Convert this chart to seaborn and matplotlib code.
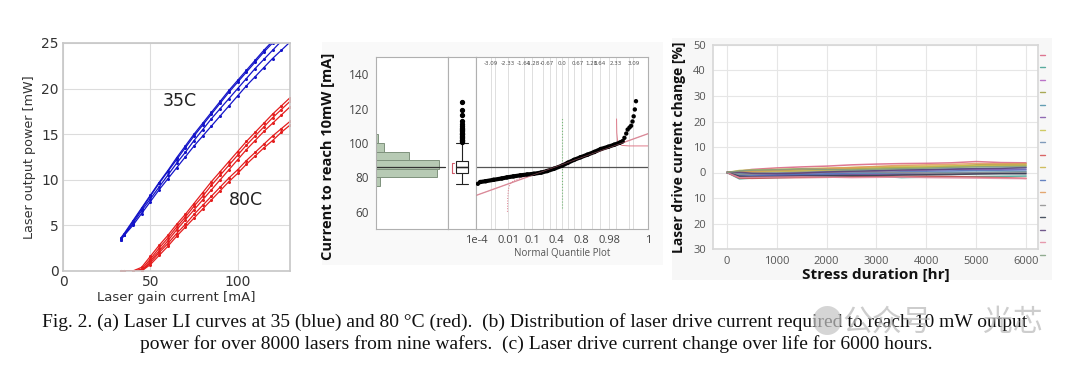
import numpy as np
import pandas as pd
import matplotlib
matplotlib.use("Agg")
import matplotlib.pyplot as plt
import seaborn as sns
from matplotlib.patches import Rectangle

# ---------------- data ----------------
# (a) LI curves
li_current = [33, 35, 40, 45, 50, 55, 60, 65, 70, 75, 80, 85, 90, 95, 100, 105, 110, 115, 120, 125, 130]
blue_A = [3.5, 4.0, 5.4, 6.8, 8.2, 9.6, 10.9, 12.2, 13.5, 14.8, 16.0, 17.2, 18.4, 19.6, 20.7, 21.8, 22.9, 24.0, 25.0, 26.0, 27.0]
blue_B = [3.6, 4.1, 5.5, 6.9, 8.3, 9.7, 11.0, 12.4, 13.7, 15.0, 16.2, 17.4, 18.6, 19.8, 20.9, 22.0, 23.1, 24.2, 25.2, 26.2, 27.2]
blue_C = [3.4, 3.9, 5.2, 6.6, 7.9, 9.2, 10.5, 11.8, 13.0, 14.3, 15.5, 16.7, 17.8, 18.9, 20.0, 21.1, 22.2, 23.2, 24.2, 25.2, 26.2]
blue_D = [3.4, 3.9, 5.0, 6.3, 7.6, 8.9, 10.1, 11.3, 12.5, 13.7, 14.8, 15.9, 17.0, 18.1, 19.2, 20.3, 21.3, 22.3, 23.3, 24.2, 25.1]
red_A = [0, 0, 0, 0.4, 1.6, 2.8, 3.9, 5.1, 6.2, 7.4, 8.6, 9.8, 10.9, 12.0, 13.1, 14.2, 15.2, 16.2, 17.2, 18.1, 19.0]
red_B = [0, 0, 0, 0.2, 1.3, 2.5, 3.6, 4.8, 5.9, 7.1, 8.2, 9.4, 10.5, 11.6, 12.7, 13.8, 14.8, 15.8, 16.8, 17.7, 18.6]
red_C = [0, 0, 0, 0, 1.1, 2.2, 3.3, 4.5, 5.6, 6.7, 7.8, 8.9, 10.0, 11.1, 12.2, 13.3, 14.3, 15.3, 16.2, 17.1, 18.0]
red_D = [0, 0, 0, 0, 0.9, 2.0, 3.0, 4.1, 5.1, 6.2, 7.2, 8.2, 9.2, 10.2, 11.1, 12.1, 13.0, 13.9, 14.8, 15.6, 16.4]
red_E = [0, 0, 0, 0, 0.7, 1.7, 2.7, 3.8, 4.8, 5.8, 6.8, 7.8, 8.8, 9.8, 10.7, 11.7, 12.6, 13.5, 14.3, 15.2, 16.0]

# (b) distribution of current to reach 10 mW
hist_edges = [75, 80, 85, 90, 95, 100, 105]
hist_counts = [185, 2830, 2940, 1540, 390, 110]
box_stats = dict(med=86.0, q1=82.6, q3=89.8, whislo=76.0, whishi=100.0)
box_fliers = [100.5, 101, 101.5, 102, 103, 103.5, 104, 105, 105.5, 106, 107, 107.5,
              108, 109, 110, 111, 113, 116, 119, 124]
mean_current = 86.0
q_z = [-3.64, -3.54, -3.3, -2.96, -2.6, -2.38, -2.1, -1.80, -1.5, -1.22, -0.9, -0.64, -0.35,
       0.0, 0.25, 0.52, 0.8, 1.10, 1.4, 1.68, 2.0, 2.26, 2.5, 2.62, 2.70, 2.78, 2.84, 2.92,
       2.99, 3.05, 3.10, 3.15, 3.2]
q_val = [76.3, 77.3, 77.8, 78.6, 79.4, 80.0, 80.6, 81.2, 81.7, 82.1, 82.8, 83.7, 85.0,
         86.8, 88.5, 90.2, 91.7, 93.2, 94.8, 96.5, 97.8, 99.0, 100.2, 101.0, 103.0, 105.5,
         107.8, 109.0, 110.0, 112.5, 115.5, 119.5, 124.3]
fit_z = [-3.72, 3.72]
fit_val = [69.5, 105.4]
band_lo_z = [-2.36, -2.35, -2.32, -2.25, -2.1, -1.8, -1.4]
band_lo_val = [60, 68, 73, 76, 78, 79.8, 81.2]
band_hi_z = [2.36, 2.37, 2.40, 2.47, 2.6, 2.9, 3.72]
band_hi_val = [114, 106, 101.5, 99.5, 98.6, 98.3, 98.3]
top_labels = ["-3.09", "-2.33", "-1.64", "-1.28", "-0.67", "0.0", "0.67", "1.28", "1.64", "2.33", "3.09"]
top_label_z = [-3.09, -2.33, -1.64, -1.28, -0.67, 0.0, 0.67, 1.28, 1.64, 2.33, 3.09]
prob_labels = ["1e-4", "0.01", "0.1", "0.4", "0.8", "0.98", "1"]
prob_label_z = [-3.72, -2.33, -1.28, -0.25, 0.84, 2.05, 3.72]
grid_z = [-3.09, -2.88, -2.33, -1.64, -1.28, -0.84, -0.52, -0.25, 0.0, 0.25, 0.52, 0.84,
          1.28, 1.64, 2.05, 2.33, 2.88, 3.09]

# (c) drive current change over life
stress_hours = [0, 250, 500, 1000, 1500, 2000, 2500, 3000, 3500, 4000, 4500, 5000, 5500, 6000]
life_series = {
    "L01": [0, 0.5, 1.2, 1.8, 2.2, 2.5, 3.0, 3.3, 3.5, 3.6, 3.8, 4.3, 3.9, 3.8],
    "L02": [0, -2.5, -2.2, -2.0, -1.8, -1.6, -1.5, -1.4, -2.0, -1.8, -1.7, -1.6, -1.5, -1.4],
    "L03": [0, -1.0, -0.8, -0.5, -0.3, 0.0, 0.2, 0.5, 0.8, 1.0, 1.1, 1.2, 1.2, 1.3],
    "L04": [0, 0.2, 0.5, 0.8, 1.0, 1.3, 1.5, 1.8, 2.0, 2.2, 2.5, 3.0, 3.2, 3.3],
    "L05": [0, -0.5, -1.0, -1.2, -1.0, -0.8, -0.6, -0.5, -0.3, -0.2, 0.0, 0.1, 0.2, 0.3],
    "L06": [0, -1.8, -1.5, -1.3, -1.1, -1.0, -0.9, -0.8, -0.7, -0.6, -0.5, -0.4, -0.3, -0.3],
    "L07": [0, 0.8, 1.0, 1.2, 1.5, 1.7, 2.0, 2.2, 2.4, 2.5, 2.6, 2.7, 2.8, 2.9],
    "L08": [0, -0.3, -0.2, 0.0, 0.3, 0.5, 0.7, 0.9, 1.1, 1.3, 1.4, 1.6, 1.7, 1.8],
    "L09": [0, -2.2, -2.3, -2.1, -2.0, -1.9, -1.7, -1.6, -1.5, -1.5, -1.6, -1.8, -2.0, -2.3],
    "L10": [0, 0.3, 0.2, 0.4, 0.6, 0.9, 1.2, 1.4, 1.6, 1.9, 2.1, 2.4, 2.6, 2.7],
    "L11": [0, -1.2, -1.4, -1.0, -0.7, -0.5, -0.2, 0.0, 0.3, 0.5, 0.6, 0.8, 0.9, 1.0],
    "L12": [0, 0.4, 0.6, 0.9, 1.3, 1.6, 1.9, 2.4, 2.8, 3.0, 3.2, 3.5, 3.4, 3.5],
    "L13": [0, -0.8, -0.6, -0.3, -0.1, 0.1, 0.3, 0.2, 0.0, -0.2, -0.3, -0.1, 0.0, 0.1],
    "L14": [0, -1.5, -1.7, -1.6, -1.4, -1.3, -1.2, -1.2, -1.0, -0.9, -0.8, -0.6, -0.5, -0.5],
    "L15": [0, 0.1, -0.3, -0.5, -0.2, 0.2, 0.5, 0.7, 1.0, 1.1, 1.3, 1.5, 1.6, 2.0],
    "L16": [0, -2.0, -1.9, -1.8, -1.7, -1.8, -2.0, -1.9, -1.8, -2.0, -2.1, -2.2, -2.3, -2.4],
    "L17": [0, 0.6, 0.9, 1.1, 1.4, 1.2, 1.0, 1.3, 1.5, 1.7, 2.0, 2.2, 2.3, 2.4],
}
life_colors = ['#d9607f', '#3f9e8f', '#b05cc0', '#9c9c3a', '#4a8fa8', '#7f52a8', '#c9c24a',
               '#6b8bb0', '#d44d4d', '#c8b446', '#4d6fb8', '#e0995a', '#8e8e8e', '#2f3a4a',
               '#5a3f7a', '#e48aa0', '#7f9f7f']
life_yticks = [50, 40, 30, 20, 10, 0, -10, -20, -30]
life_yticklabels = ["50", "40", "30", "20", "10", "0", "10", "20", "30"]

caption_1 = ("Fig. 2. (a) Laser LI curves at 35 (blue) and 80 \u00b0C (red).  (b) Distribution of laser "
             "drive current required to reach 10 mW output")
caption_2 = "power for over 8000 lasers from nine wafers.  (c) Laser drive current change over life for 6000 hours."

# ---------------- style ----------------
sns.set_theme(style="white")
plt.rcParams["font.family"] = ["DejaVu Sans"]

W, H = 1080, 375
fig = plt.figure(figsize=(W / 100, H / 100), dpi=100)
fig.patch.set_facecolor("white")


def rect(l, t, r, b):
    return [l / W, 1 - b / H, (r - l) / W, (b - t) / H]


def bg(l, t, r, b, color):
    fig.patches.append(Rectangle((l / W, 1 - b / H), (r - l) / W, (b - t) / H,
                                 transform=fig.transFigure, facecolor=color,
                                 edgecolor="none", zorder=-10))


# ---------------- panel (a) ----------------
axA = fig.add_axes(rect(63, 43, 290, 271))
rows = []
for name, vals in [("b1", blue_A), ("b2", blue_B), ("b3", blue_C), ("b4", blue_D),
                   ("r1", red_A), ("r2", red_B), ("r3", red_C), ("r4", red_D), ("r5", red_E)]:
    for i, p in zip(li_current, vals):
        rows.append((name, i, p))
dfa = pd.DataFrame(rows, columns=["curve", "current", "power"])
pal_a = {n: ("#1414c8" if n.startswith("b") else "#e41e1e") for n in dfa["curve"].unique()}
sns.lineplot(data=dfa, x="current", y="power", hue="curve", palette=pal_a,
             lw=0.9, marker="o", markersize=2.2, markeredgewidth=0, legend=False, ax=axA)
axA.set_xlim(0, 130)
axA.set_ylim(0, 25)
axA.set_xticks([0, 50, 100])
axA.set_yticks([0, 5, 10, 15, 20, 25])
axA.grid(True, color="#dcdcdc", lw=0.8)
for s in axA.spines.values():
    s.set_color("#c8c8c8")
axA.tick_params(labelsize=10, colors="#333333", length=0, pad=3)
axA.set_xlabel("Laser gain current [mA]", fontsize=9.5, color="#333333", labelpad=1)
axA.set_ylabel("Laser output power [mW]", fontsize=9.2, color="#333333", labelpad=4)
axA.text(57, 18.6, "35C", fontsize=12.5, color="#222222", va="center")
axA.text(95, 7.8, "80C", fontsize=12.5, color="#222222", va="center")

# ---------------- panel (b) ----------------
bg(322, 42, 663, 265, "#f9f9f9")
axH = fig.add_axes(rect(376, 57, 448, 229))
axB = fig.add_axes(rect(448, 57, 476, 229), sharey=axH)
axQ = fig.add_axes(rect(476, 57, 648, 229), sharey=axH)
for ax in (axH, axB, axQ):
    ax.set_facecolor("white")
    for s in ax.spines.values():
        s.set_color("#b0b0b0")
        s.set_linewidth(0.8)

centers = [(a + b) / 2 for a, b in zip(hist_edges[:-1], hist_edges[1:])]
sns.histplot(y=centers, weights=hist_counts, bins=hist_edges, color="#b7cab4",
             edgecolor="#7f927d", linewidth=0.7, alpha=1, ax=axH)
axH.set_xlim(0, 3340)
axH.set_ylim(50, 150)
axH.set_xticks([])
axH.set_xlabel("")
axH.set_yticks([60, 80, 100, 120, 140])
axH.tick_params(axis="y", labelsize=8.5, colors="#444444", length=3, width=0.7,
                direction="out", color="#999999", pad=2)
axH.set_ylabel("Current to reach 10mW [mA]", fontsize=10.5, fontweight="bold",
               family="Open Sans", color="#111111")
axH.yaxis.set_label_coords(-0.57, 0.42)
for lab in axH.get_yticklabels():
    lab.set_family("Open Sans")
axH.axhline(mean_current, color="#333333", lw=0.9, xmin=0, xmax=0.96)

axB.bxp([dict(box_stats, fliers=box_fliers)], positions=[0.5], widths=0.45,
        capwidths=0.4, showfliers=True, patch_artist=True,
        boxprops=dict(facecolor="white", edgecolor="#222222", lw=0.8),
        medianprops=dict(color="#222222", lw=1.0),
        whiskerprops=dict(color="#222222", lw=0.8),
        capprops=dict(color="#222222", lw=0.8),
        flierprops=dict(marker="o", markersize=2.8, markerfacecolor="black",
                        markeredgecolor="black"))
axB.axhline(mean_current, color="#333333", lw=0.9, xmin=0.3, xmax=0.7)
axB.plot([0.22, 0.15, 0.15, 0.22], [88.5, 88.5, 82.5, 82.5], color="#d05a6a", lw=0.8)
axB.set_xlim(0, 1)
axB.set_xticks([])
axB.tick_params(axis="y", left=False, labelleft=False)

for zg in grid_z:
    axQ.axvline(zg, color="#dedede", lw=0.7, zorder=0)
axQ.axhline(mean_current, color="#555555", lw=0.9, zorder=1)
axQ.plot([0, 0], [62, 115], color="#77bb77", lw=0.8, ls=":", zorder=1)
sns.lineplot(x=fit_z, y=fit_val, color="#e6a0ad", lw=1.0, ax=axQ, zorder=2)
sns.lineplot(x=band_lo_z, y=band_lo_val, color="#e07a8a", lw=0.7, ls=":", sort=False, ax=axQ)
sns.lineplot(x=band_hi_z, y=band_hi_val, color="#e07a8a", lw=0.7, sort=False, ax=axQ)
sns.lineplot(x=q_z[1:24], y=q_val[1:24], color="black", lw=3.0, sort=False, ax=axQ, zorder=3)
sns.scatterplot(x=q_z, y=q_val, color="black", s=10, edgecolor="none", ax=axQ, zorder=4)
sns.lineplot(x=fit_z, y=fit_val, color="#c97080", lw=0.5, alpha=0.6, ax=axQ, zorder=5)
axQ.set_xlim(-3.72, 3.72)
axQ.set_xticks(prob_label_z)
axQ.set_xticklabels(prob_labels, family="Open Sans")
axQ.tick_params(axis="x", labelsize=8, colors="#444444", length=0, pad=4)
axQ.tick_params(axis="y", left=False, labelleft=False)
axQ.set_xlabel("Normal Quantile Plot", fontsize=7, color="#555555", family="Open Sans", labelpad=2)
for zt, lt in zip(top_label_z, top_labels):
    axQ.text(zt, 146.5, lt, fontsize=4.0, color="#555555", ha="center", va="center")

# ---------------- panel (c) ----------------
bg(672, 38, 1052, 280, "#f7f7f7")
axC = fig.add_axes(rect(713, 45, 1038, 249))
axC.set_facecolor("white")
rows = []
for name, vals in life_series.items():
    for t, v in zip(stress_hours, vals):
        rows.append((name, t, v))
dfc = pd.DataFrame(rows, columns=["laser", "hours", "change"])
sns.lineplot(data=dfc, x="hours", y="change", hue="laser", palette=life_colors,
             lw=1.1, alpha=0.85, ax=axC)
handles, _ = axC.get_legend_handles_labels()
for h in handles:
    h.set_linewidth(1.0)
axC.legend(handles, [""] * len(handles), loc="upper left", bbox_to_anchor=(1.0, 0.98),
           frameon=False, fontsize=6, handlelength=0.6, handletextpad=0,
           labelspacing=0.42, borderaxespad=0.2, borderpad=0)
axC.set_xlim(-280, 6240)
axC.set_ylim(-30, 50)
axC.set_xticks([0, 1000, 2000, 3000, 4000, 5000, 6000])
axC.set_yticks(life_yticks)
axC.set_yticklabels(life_yticklabels)
axC.grid(True, color="#e6e6e6", lw=0.8)
for s in axC.spines.values():
    s.set_color("#d8d8d8")
axC.tick_params(labelsize=8, colors="#555555", length=0, pad=5)
for lab in axC.get_xticklabels() + axC.get_yticklabels():
    lab.set_family("Open Sans")
axC.set_xlabel("Stress duration [hr]", fontsize=11, fontweight="bold", family="Open Sans",
               color="#111111", labelpad=1)
axC.set_ylabel("Laser drive current change [%]", fontsize=10, fontweight="bold",
               family="Open Sans", color="#111111", labelpad=5)

# ---------------- caption & watermark ----------------
fig.text(535 / W, 1 - 322 / H, caption_1, ha="center", va="center",
         family="Liberation Serif", fontsize=14, color="#111111")
fig.text(536 / W, 1 - 344 / H, caption_2, ha="center", va="center",
         family="Liberation Serif", fontsize=14, color="#111111")
fig.text(811 / W, 1 - 320 / H, "\u25cf", ha="left", va="center",
         family=["DejaVu Sans"], fontsize=27, color="#c4c4c4", alpha=0.7)
fig.text(842 / W, 1 - 322 / H, "公众号", ha="left", va="center",
         family=["Noto Sans CJK SC"], fontsize=21.5, color="#b8b8b8", alpha=0.7)
fig.text(983 / W, 1 - 322 / H, "光芯", ha="left", va="center",
         family=["Noto Sans CJK SC"], fontsize=21.5, color="#b8b8b8", alpha=0.7)

fig.savefig("out.png", dpi=100)
